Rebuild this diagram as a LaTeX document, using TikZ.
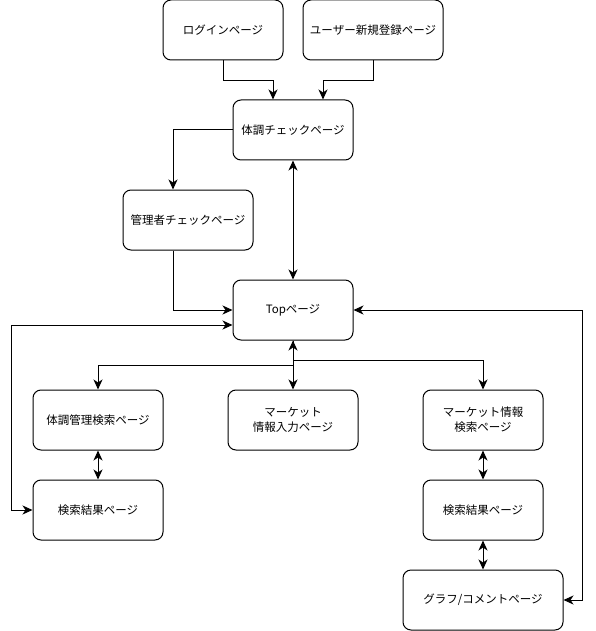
\documentclass[tikz,border=0pt]{standalone}
\usepackage{fontspec}
\setmainfont{Noto Sans CJK JP}
\usepackage{tikz}
\usetikzlibrary{shapes,arrows.meta,positioning}

\begin{document}
\begin{tikzpicture}[x=1pt,y=-1pt,every node/.style={font=\fontsize{11.5}{15}\selectfont}]
  \tikzstyle{page} = [rectangle, draw, line width=1pt, rounded corners=8pt,
      minimum width=120pt, minimum height=60pt, align=center, inner sep=2pt]
  \tikzstyle{arrow} = [-{Stealth[length=10pt,width=9pt,inset=3pt]}, line width=1pt]
  \tikzstyle{darrow} = [{Stealth[length=10pt,width=9pt,inset=3pt]}-{Stealth[length=10pt,width=9pt,inset=3pt]}, line width=1pt]

  \useasboundingbox (0,0) rectangle (596,631);

  % pixel grid of the sketch: x to the right, y downwards
  \node (login)   [page]                      at (223,30)  {ログインページ};
  \node (signup)  [page, minimum width=140pt] at (373,30)  {ユーザー新規登録ページ};
  \node (health)  [page]                      at (293,130) {体調チェックページ};
  \node (admin)   [page, minimum width=130pt] at (188,220) {管理者チェックページ};
  \node (top)     [page]                      at (293,310) {Topページ};
  \node (hsearch) [page, minimum width=130pt] at (98,420)  {体調管理検索ページ};
  \node (minput)  [page, minimum width=130pt] at (293,420) {マーケット\\情報入力ページ};
  \node (msearch) [page]                      at (483,420) {マーケット情報\\検索ページ};
  \node (hresult) [page, minimum width=130pt] at (98,510)  {検索結果ページ};
  \node (mresult) [page]                      at (483,510) {検索結果ページ};
  \node (graph)   [page, minimum width=160pt] at (483,600) {グラフ/コメントページ};

  \draw[arrow] (login.south) -- ++(0,20) -| ([xshift=-20pt]health.north);
  \draw[arrow] (signup.south) -- ++(0,20) -| ([xshift=30pt]health.north);
  \draw[arrow] (health.west) -| ([xshift=-15pt]admin.north);
  \draw[arrow] ([xshift=-15pt]admin.south) |- (top.west);
  \draw[darrow] (health) -- (top);
  % side loops round the left and right columns
  \draw[darrow] ([yshift=-15pt]top.west) -| ([xshift=-21pt]hresult.west) -- (hresult.west);
  \draw[darrow] (top.east) -| ([xshift=19pt]graph.east) -- (graph.east);
  % fan out below the Top page
  \draw[darrow] (top) -- (minput);
  \draw[arrow] (top.south) -- ++(0,25) -| (hsearch.north);
  \draw[arrow] (top.south) -- ++(0,20) -| (msearch.north);
  \draw[darrow] (hsearch) -- (hresult);
  \draw[darrow] (msearch) -- (mresult);
  \draw[darrow] (mresult) -- (graph);
\end{tikzpicture}
\end{document}
